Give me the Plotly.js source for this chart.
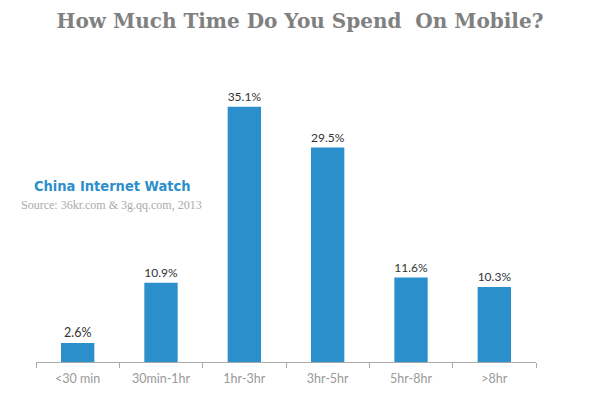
<!DOCTYPE html>
<html><head><meta charset="utf-8">
<script src="https://cdn.plot.ly/plotly-3.0.1.min.js"></script>
<style>body{margin:0;background:#fff}#c{width:600px;height:398px}</style>
</head><body><div id="c"></div>
<script>
const categories = ["<30 min", "30min-1hr", "1hr-3hr", "3hr-5hr", "5hr-8hr", ">8hr"];
const values = [2.6, 10.9, 35.1, 29.5, 11.6, 10.3];
const labels = ["2.6%", "10.9%", "35.1%", "29.5%", "11.6%", "10.3%"];

const L=36, R=64, T=71, B=36, W=600-L-R, H=398-T-B;
const px = (x)=> (x-L)/W, py=(y)=> 1-(y-T)/H;

Plotly.newPlot("c", [{
  type: "bar", x: categories, y: values, text: labels,
  textposition: "outside", cliponaxis: false,
  textfont: {family: "Lato, 'Open Sans', sans-serif", size: 12.5, color: "#333"},
  marker: {color: "#2b8fcc"}, hoverinfo: "none"
}], {
  width: 600, height: 398,
  margin: {l: L, r: R, t: T, b: B},
  paper_bgcolor: "#fff", plot_bgcolor: "#fff",
  bargap: 0.6, showlegend: false,
  title: {text: "How Much Time Do You Spend  On Mobile?", x: 0.5, xanchor: "center", y: 0.948, yanchor: "middle",
    font: {family: "'DejaVu Serif', 'Liberation Serif', serif", size: 20, color: "#808080", weight: "bold"}},
  xaxis: {showline: true, linecolor: "#aaa", linewidth: 1, ticks: "outside", tickson: "boundaries",
    ticklen: 5, tickcolor: "#aaa", showgrid: false, zeroline: false, ticklabelstandoff: 5,
    tickfont: {family: "Lato, 'Open Sans', sans-serif", size: 12.5, color: "#999"}},
  yaxis: {range: [0, 40], visible: false, showgrid: false, zeroline: false},
  annotations: [
    {text: "<span style='font-family:\"DejaVu Sans Condensed\",\"DejaVu Sans\";font-stretch:condensed'>China Internet Watch</span>",
     xref: "paper", yref: "paper", x: px(32), y: py(186), xanchor: "left", yanchor: "middle", showarrow: false,
     font: {family: "'DejaVu Sans Condensed', 'DejaVu Sans', sans-serif", size: 14.5, color: "#2b8fcc", weight: "bold"}},
    {text: "Source: 36kr.com & 3g.qq.com, 2013", xref: "paper", yref: "paper", x: px(19), y: py(205),
     xanchor: "left", yanchor: "middle", showarrow: false,
     font: {family: "'Liberation Serif', serif", size: 12, color: "#aaa"}}
  ]
}, {displayModeBar: false, staticPlot: true});
</script></body></html>
